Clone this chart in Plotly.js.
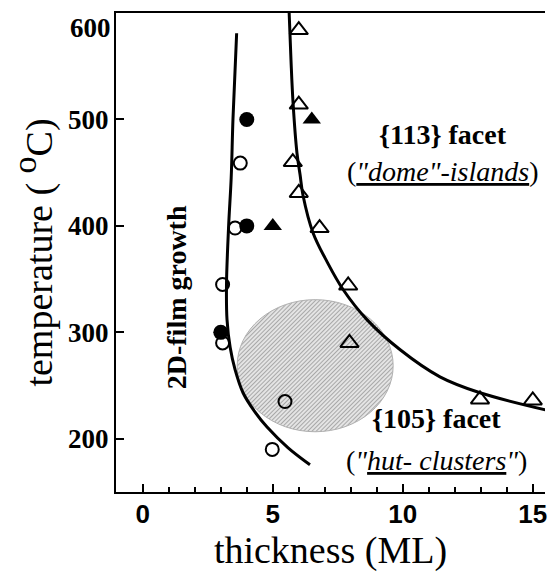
<!DOCTYPE html>
<html>
<head>
<meta charset="utf-8">
<script src="https://cdn.plot.ly/plotly-3.0.1.min.js"></script>
<style>html,body{margin:0;padding:0;background:#fff;}#chart{width:551px;height:572px;}</style>
</head>
<body>
<div id="chart"></div>
<script>
// ---- data ----
const filledCircleX = [4.0, 4.0, 3.0];
const filledCircleY = [500, 400, 300];
const openCircleX = [3.75, 3.55, 3.07, 3.07, 5.47, 4.98];
const openCircleY = [459, 398, 345, 290, 235, 190];
const filledTriangleX = [6.5, 5.0];
const filledTriangleY = [500, 400];
const openTriangleX = [6.0, 6.0, 5.77, 6.0, 6.8, 7.9, 7.95, 12.97, 15.0];
const openTriangleY = [584, 514, 460, 431, 398, 344, 290, 237, 236];
// boundary curves
const leftCurveX = [3.61, 3.47, 3.40, 3.30, 3.22, 3.24, 3.36, 3.55, 3.86, 4.32, 4.78, 5.59, 6.43];
const leftCurveY = [581, 501, 445, 399, 345, 312, 286, 265, 243, 225, 211, 191.5, 175.6];
const rightCurveX = [5.63, 5.70, 5.78, 5.93, 6.05, 6.16, 6.55, 7.09, 7.71, 8.63, 9.90, 11.43, 12.97, 15.6];
const rightCurveY = [600, 556, 515.5, 468.5, 448, 429, 393.4, 366.2, 340, 311.7, 283.6, 258.2, 243.2, 226.5];
// hut-cluster region (ellipse bounds)
const hutRegionX = [3.63, 9.63];
const hutRegionY = [206.6, 330.7];
// tick labels
const xTickVals = [0, 5, 10, 15];
const xTickText = ['0', '5', '10', '15'];
const yTickVals = [200, 300, 400, 500];
const yTickText = ['200', '300', '400', '500'];

const serif = 'Liberation Serif';
const sans = 'Liberation Sans';
const bold = t => '<b>' + t + '</b>';

const traces = [
  {x: leftCurveX, y: leftCurveY, mode: 'lines', line: {color: '#000', width: 3, shape: 'spline', smoothing: 1}, hoverinfo: 'skip', showlegend: false},
  {x: rightCurveX, y: rightCurveY, mode: 'lines', line: {color: '#000', width: 3, shape: 'spline', smoothing: 1}, hoverinfo: 'skip', showlegend: false},
  {x: openCircleX, y: openCircleY, mode: 'markers', marker: {symbol: 'circle-open', size: 13, color: '#000', line: {width: 2, color: '#000'}}, showlegend: false},
  {x: filledCircleX, y: filledCircleY, mode: 'markers', marker: {symbol: 'circle', size: 15, color: '#000'}, showlegend: false},
  {x: openTriangleX, y: openTriangleY, mode: 'markers', marker: {symbol: 'triangle-up-open', size: 16, color: '#000', line: {width: 2, color: '#000'}}, showlegend: false},
  {x: filledTriangleX, y: filledTriangleY, mode: 'markers', marker: {symbol: 'triangle-up', size: 16, color: '#000'}, showlegend: false}
];

const layout = {
  width: 551, height: 572,
  margin: {l: 116, r: 6, t: 13, b: 80},
  paper_bgcolor: '#fff', plot_bgcolor: '#fff',
  showlegend: false,
  xaxis: {
    range: [-1.03, 15.47], showgrid: false, zeroline: false,
    showline: true, linecolor: '#000', linewidth: 2, mirror: true,
    tickmode: 'array', tickvals: xTickVals, ticktext: xTickText.map(bold),
    ticks: 'inside', ticklen: 8, tickwidth: 2, tickcolor: '#000',
    ticklabelstandoff: -2,
    minor: {dtick: 1, ticks: 'inside', ticklen: 5, tickwidth: 1.5, tickcolor: '#000'},
    tickfont: {family: sans, size: 26, color: '#000'},
    title: {text: 'thickness (ML)', font: {family: serif, size: 38, color: '#000'}, standoff: 2}
  },
  yaxis: {
    range: [150, 600], showgrid: false, zeroline: false,
    showline: true, linecolor: '#000', linewidth: 2, mirror: false,
    tickmode: 'array', tickvals: yTickVals, ticktext: yTickText.map(bold),
    ticks: 'inside', ticklen: 8, tickwidth: 2, tickcolor: '#000',
    tickfont: {family: serif, size: 27, color: '#000'},
    title: {text: 'temperature ( <sup><span style="font-size:34px">o</span></sup>C)', font: {family: serif, size: 38, color: '#000'}, standoff: 4}
  },
  yaxis2: {
    overlaying: 'y', side: 'right', range: [150, 600], showgrid: false, zeroline: false,
    showline: true, linecolor: '#000', linewidth: 2,
    tickmode: 'linear', tick0: 0, dtick: 20, ticks: 'inside', ticklen: 4, tickwidth: 1, tickcolor: '#555',
    showticklabels: false
  },
  shapes: [{
    type: 'circle', xref: 'x', yref: 'y', layer: 'below',
    x0: hutRegionX[0], x1: hutRegionX[1], y0: hutRegionY[0], y1: hutRegionY[1],
    fillcolor: '#d9d9d9', line: {color: '#b0b0b0', width: 1}
  }],
  annotations: [
    {xref: 'paper', yref: 'y', x: 0, y: 586, xanchor: 'right', yanchor: 'middle', xshift: -3, text: '<b>600</b>', showarrow: false,
     font: {family: serif, size: 27, color: '#000'}},
    {xref: 'x', yref: 'y', x: 11.55, y: 486, text: '<b>{113} facet</b>', showarrow: false,
     font: {family: serif, size: 28, color: '#000'}},
    {xref: 'x', yref: 'y', x: 11.55, y: 451.5, text: '(<i><u>"dome"-islands</u></i>)', showarrow: false,
     font: {family: serif, size: 28, color: '#000'}},
    {xref: 'x', yref: 'y', x: 11.3, y: 219, text: '<b>{105} facet</b>', showarrow: false,
     font: {family: serif, size: 28, color: '#000'}},
    {xref: 'x', yref: 'y', x: 11.3, y: 180, text: '(<i>"<u>hut- clusters</u>"</i>)', showarrow: false,
     font: {family: serif, size: 28, color: '#000'}},
    {xref: 'x', yref: 'y', x: 1.28, y: 333, text: '<b>2D-film growth</b>', textangle: -90, showarrow: false,
     font: {family: serif, size: 28, color: '#000'}}
  ]
};

Plotly.newPlot('chart', traces, layout, {displayModeBar: false, staticPlot: true}).then(function () {
  // hatch the hut-cluster region
  const svg = document.querySelector('#chart .main-svg');
  const ns = 'http://www.w3.org/2000/svg';
  let defs = svg.querySelector('defs');
  if (!defs) { defs = document.createElementNS(ns, 'defs'); svg.insertBefore(defs, svg.firstChild); }
  const pat = document.createElementNS(ns, 'pattern');
  pat.setAttribute('id', 'hutHatch');
  pat.setAttribute('patternUnits', 'userSpaceOnUse');
  pat.setAttribute('width', '3'); pat.setAttribute('height', '3');
  pat.setAttribute('patternTransform', 'rotate(45)');
  const bg = document.createElementNS(ns, 'rect');
  bg.setAttribute('width', '3'); bg.setAttribute('height', '3'); bg.setAttribute('fill', '#e4e4e4');
  const ln = document.createElementNS(ns, 'rect');
  ln.setAttribute('width', '1'); ln.setAttribute('height', '3'); ln.setAttribute('fill', '#a8a8a8');
  pat.appendChild(bg); pat.appendChild(ln);
  defs.appendChild(pat);
  document.querySelectorAll('#chart .shapelayer path').forEach(function (p) {
    p.style.fill = 'url(#hutHatch)';
    p.style.fillOpacity = '1';
  });
});
</script>
</body>
</html>
